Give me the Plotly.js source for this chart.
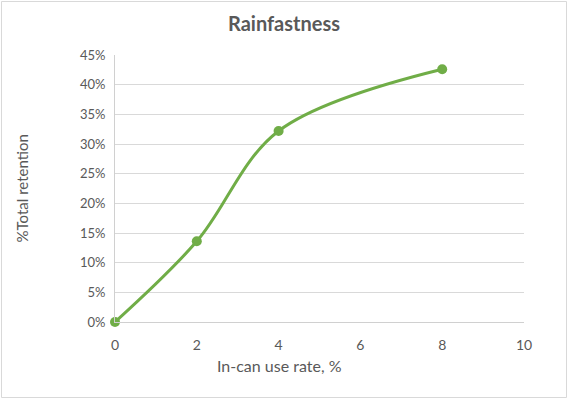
<!DOCTYPE html>
<html><head><meta charset="utf-8">
<script src="https://cdn.plot.ly/plotly-3.0.1.min.js"></script>
<style>html,body{margin:0;padding:0;background:#fff}#chart{width:568px;height:399px}</style>
</head><body><div id="chart"></div>
<script>
const rates = [0, 2, 4, 8];
const retention = [0, 0.136, 0.322, 0.426];
const xTicks = [0, 2, 4, 6, 8, 10];
const yTicks = [0, 0.05, 0.10, 0.15, 0.20, 0.25, 0.30, 0.35, 0.40, 0.45];
const yTickLabels = ['0%','5%','10%','15%','20%','25%','30%','35%','40%','45%'];

const W = 568, H = 399, L = 115, R = 44, T = 55, B = 77;
const font = 'Lato, "Open Sans", "Liberation Sans", sans-serif';
const grey = '#595959';

Plotly.newPlot('chart', [{
  x: rates, y: retention, type: 'scatter', mode: 'lines+markers',
  line: {color: '#70AD47', width: 3, shape: 'spline', smoothing: 1},
  marker: {color: '#70AD47', size: 10},
  cliponaxis: false, hoverinfo: 'skip'
}], {
  width: W, height: H,
  margin: {l: L, r: R, t: T, b: B},
  paper_bgcolor: '#fff', plot_bgcolor: '#fff',
  showlegend: false,
  title: {text: '<b>Rainfastness</b>', font: {family: font, size: 20, color: grey}, x: 0.5, xref: 'container', xanchor: 'center', y: 1 - 24/H, yanchor: 'middle'},
  xaxis: {range: [0, 10], tickvals: xTicks, ticktext: xTicks.map(String), showgrid: false, zeroline: false,
    showline: true, linecolor: '#d0d0d0', linewidth: 1, ticks: '', ticklabelstandoff: 10,
    tickfont: {family: font, size: 14, color: grey}, fixedrange: true},
  yaxis: {range: [0, 0.45], tickvals: yTicks, ticktext: yTickLabels, showgrid: true, gridcolor: '#d9d9d9', gridwidth: 1,
    zeroline: false, showline: true, linecolor: '#d0d0d0', linewidth: 1, ticks: '', ticklabelstandoff: 6,
    tickfont: {family: font, size: 13, color: grey}, fixedrange: true},
  annotations: [
    {text: 'In-can use rate, %', xref: 'paper', yref: 'paper', x: (279 - L)/(W - L - R), y: -(365 - (H - B))/(H - T - B),
     xanchor: 'center', yanchor: 'middle', showarrow: false, font: {family: font, size: 16, color: grey}},
    {text: '%Total retention', xref: 'paper', yref: 'paper', x: -(L - 21)/(W - L - R), y: 0.5, textangle: -90,
     xanchor: 'center', yanchor: 'middle', showarrow: false, font: {family: font, size: 15, color: grey}}
  ],
  shapes: [{type: 'rect', xref: 'paper', yref: 'paper', x0: -(L - 1.5)/(W - L - R), x1: 1 + (R - 1.5)/(W - L - R),
    y0: -(B - 1.5)/(H - T - B), y1: 1 + (T - 1.5)/(H - T - B), line: {color: '#d9d9d9', width: 1}}]
}, {displayModeBar: false, staticPlot: true});
</script></body></html>
